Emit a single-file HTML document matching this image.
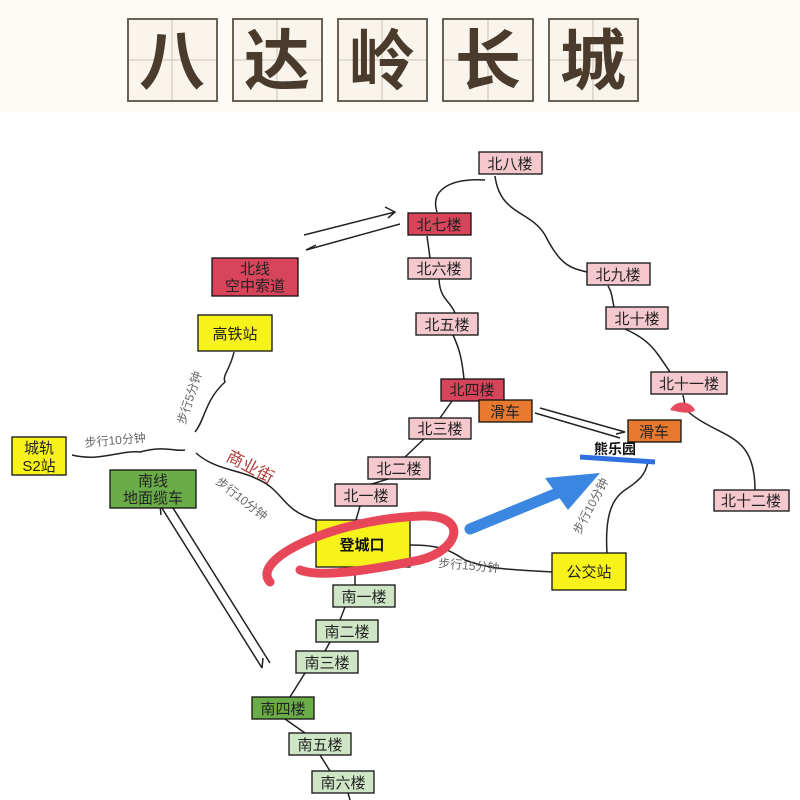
<!DOCTYPE html>
<html><head><meta charset="utf-8"><style>
body{margin:0;width:800px;height:800px;overflow:hidden;background:#fff;}
svg{display:block}
text{font-family:"Liberation Sans","Noto Sans CJK SC",sans-serif;}
</style></head><body>
<svg width="800" height="800" viewBox="0 0 800 800" xmlns="http://www.w3.org/2000/svg">
<rect width="800" height="112" fill="#fdfbf6"/>
<g fill="#f9f5ec" stroke="#6b6256" stroke-width="2">
<rect x="128" y="19" width="89" height="82"/><rect x="233" y="19" width="89" height="82"/><rect x="338" y="19" width="89" height="82"/><rect x="443" y="19" width="90" height="82"/><rect x="549" y="19" width="89" height="82"/>
</g>
<g stroke="#c9c2b6" stroke-width="1">
<line x1="172" y1="20" x2="172" y2="100"/><line x1="129" y1="60" x2="216" y2="60"/>
<line x1="277" y1="20" x2="277" y2="100"/><line x1="234" y1="60" x2="321" y2="60"/>
<line x1="382" y1="20" x2="382" y2="100"/><line x1="339" y1="60" x2="426" y2="60"/>
<line x1="488" y1="20" x2="488" y2="100"/><line x1="444" y1="60" x2="532" y2="60"/>
<line x1="593" y1="20" x2="593" y2="100"/><line x1="550" y1="60" x2="637" y2="60"/>
</g>
<g fill="#4b3b2d" font-size="66" font-weight="bold" text-anchor="middle">
<text x="172" y="84">八</text><text x="277" y="84">达</text><text x="382" y="84">岭</text><text x="488" y="84">长</text><text x="593" y="84">城</text>
</g>
<g fill="none" stroke="#222" stroke-width="1.5">
<path d="M485 180 C450 178 430 190 437 212"/>
<path d="M495 176 C500 215 530 210 545 235 C560 265 570 268 587 272"/>
<path d="M608 286 C612 292 612 298 614 307"/>
<path d="M625 329 C650 340 655 350 670 372"/>
<path d="M683 395 L686 410 C720 440 755 430 755 490"/>
<path d="M427 236 L430 258"/>
<path d="M439 279 C440 300 450 300 455 313"/>
<path d="M453 335 C460 350 462 360 464 379"/>
<path d="M452 401 L440 418"/>
<path d="M424 439 L405 457"/>
<path d="M388 479 L372 484"/>
<path d="M360 506 L356 520"/>
<path d="M355 567 L355 585"/>
<path d="M345 607 L340 620"/>
<path d="M330 642 L325 651"/>
<path d="M305 673 L290 697"/>
<path d="M285 719 L305 733"/>
<path d="M320 755 L330 771"/>
<path d="M348 793 L350 800"/>
<path d="M410 545 C440 545 450 550 465 560 C490 570 520 570 552 572"/>
<path d="M607 553 C605 520 610 500 625 490 C640 480 645 475 648 462"/>
<path d="M234 352 C230 370 222 375 225 382 C205 400 205 420 195 432"/>
<path d="M72 455 C100 462 120 450 140 452 C165 445 175 452 185 450"/>
<path d="M196 453 C215 470 240 470 255 478 C285 490 280 510 316 520"/>
<path d="M304 235 L395 212 M385 207 L395 212 L388 218"/>
<path d="M306 250 L400 224 M306 250 L316 245"/>
<path d="M160 505 L262 668 M262 668 L263 658"/>
<path d="M168 500 L270 663 M160 505 L161 515"/>
<path d="M540 408 L625 432 M625 432 L616 434"/>
<path d="M535 413 L620 438"/>
</g>
<g stroke="#111" stroke-width="1.3" font-size="15" text-anchor="middle">
<rect x="479" y="152" width="63" height="22" fill="#f4c8cd"/><text x="510" y="169" stroke="none" fill="#222">北八楼</text>
<rect x="408" y="213" width="63" height="22" fill="#d8455b"/><text x="439" y="230" stroke="none" fill="#222">北七楼</text>
<rect x="408" y="258" width="63" height="21" fill="#f4c8cd"/><text x="439" y="274" stroke="none" fill="#222">北六楼</text>
<rect x="416" y="313" width="62" height="22" fill="#f4c8cd"/><text x="447" y="330" stroke="none" fill="#222">北五楼</text>
<rect x="441" y="379" width="63" height="22" fill="#d8455b"/><text x="472" y="395" stroke="none" fill="#222">北四楼</text>
<rect x="479" y="400" width="53" height="22" fill="#e8792e"/><text x="505" y="417" stroke="none" fill="#222">滑车</text>
<rect x="409" y="418" width="62" height="21" fill="#f4c8cd"/><text x="440" y="434" stroke="none" fill="#222">北三楼</text>
<rect x="368" y="457" width="62" height="22" fill="#f4c8cd"/><text x="399" y="474" stroke="none" fill="#222">北二楼</text>
<rect x="335" y="484" width="62" height="22" fill="#f4c8cd"/><text x="366" y="501" stroke="none" fill="#222">北一楼</text>
<rect x="316" y="520" width="94" height="47" fill="#f7f21a"/><text x="362" y="550" stroke="none" fill="#111" font-weight="bold">登城口</text>
<rect x="333" y="585" width="62" height="22" fill="#cfe6c6"/><text x="364" y="602" stroke="none" fill="#222">南一楼</text>
<rect x="316" y="620" width="62" height="22" fill="#cfe6c6"/><text x="347" y="637" stroke="none" fill="#222">南二楼</text>
<rect x="296" y="651" width="62" height="22" fill="#cfe6c6"/><text x="327" y="668" stroke="none" fill="#222">南三楼</text>
<rect x="252" y="697" width="62" height="22" fill="#6aad48"/><text x="283" y="714" stroke="none" fill="#222">南四楼</text>
<rect x="289" y="733" width="62" height="22" fill="#cfe6c6"/><text x="320" y="750" stroke="none" fill="#222">南五楼</text>
<rect x="312" y="771" width="62" height="22" fill="#cfe6c6"/><text x="343" y="788" stroke="none" fill="#222">南六楼</text>
<rect x="587" y="263" width="63" height="22" fill="#f4c8cd"/><text x="618" y="280" stroke="none" fill="#222">北九楼</text>
<rect x="606" y="307" width="62" height="22" fill="#f4c8cd"/><text x="637" y="324" stroke="none" fill="#222">北十楼</text>
<rect x="651" y="372" width="76" height="22" fill="#f4c8cd"/><text x="689" y="389" stroke="none" fill="#222">北十一楼</text>
<rect x="714" y="490" width="75" height="21" fill="#f4c8cd"/><text x="751" y="506" stroke="none" fill="#222">北十二楼</text>
<rect x="628" y="420" width="53" height="22" fill="#e8792e"/><text x="654" y="437" stroke="none" fill="#222">滑车</text>
<rect x="552" y="553" width="74" height="37" fill="#f7f21a"/><text x="589" y="577" stroke="none" fill="#222">公交站</text>
<rect x="212" y="258" width="86" height="38" fill="#d8455b"/><text x="255" y="274" stroke="none" fill="#222">北线</text><text x="255" y="291" stroke="none" fill="#222">空中索道</text>
<rect x="198" y="315" width="74" height="36" fill="#f7f21a"/><text x="235" y="339" stroke="none" fill="#222">高铁站</text>
<rect x="12" y="437" width="54" height="38" fill="#f7f21a"/><text x="39" y="453" stroke="none" fill="#222">城轨</text><text x="39" y="471" stroke="none" fill="#222">S2站</text>
<rect x="110" y="470" width="86" height="38" fill="#6aad48"/><text x="153" y="486" stroke="none" fill="#222">南线</text><text x="153" y="503" stroke="none" fill="#222">地面缆车</text>
</g>
<path d="M670 410 C675 400 690 400 695 410 C690 415 680 412 670 410Z" fill="#e84a5f"/>
<text x="615" y="454" font-size="14" font-weight="bold" text-anchor="middle" fill="#111">熊乐园</text>
<line x1="580" y1="457" x2="655" y2="462" stroke="#2f6fe0" stroke-width="5"/>
<line x1="470" y1="529" x2="560" y2="492" stroke="#3a86e0" stroke-width="11" stroke-linecap="round"/>
<polygon points="545,478 600,473 568,510" fill="#3a86e0"/>
<path d="M270 582 C250 560 330 520 420 516 C470 514 460 550 420 560 C370 570 320 578 300 570" fill="none" stroke="#e8475a" stroke-width="9" stroke-linecap="round"/>
<g fill="#666" font-size="12">
<text x="85" y="447" transform="rotate(-5 85 447)">步行10分钟</text>
<text x="185" y="425" transform="rotate(-72 185 425)">步行5分钟</text>
<text x="215" y="483" transform="rotate(38 215 483)">步行10分钟</text>
<text x="438" y="567" transform="rotate(5 438 567)">步行15分钟</text>
<text x="580" y="535" transform="rotate(-62 580 535)">步行10分钟</text>
</g>
<text x="225" y="460" font-size="17" fill="#b03a3a" transform="rotate(28 225 460)">商业街</text>
</svg>
</body></html>
